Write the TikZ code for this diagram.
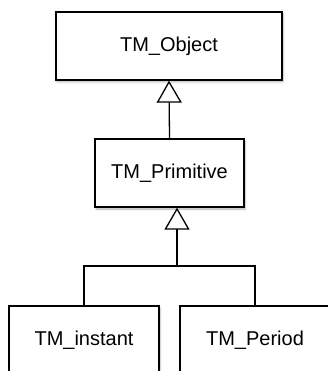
\documentclass[tikz,border=0pt]{standalone}
\usepackage{fontspec}
\setmainfont{Liberation Sans}
\usetikzlibrary{arrows.meta,shadows.blur}
\begin{document}
\begin{tikzpicture}[x=1pt,y=-1pt,
  cls/.style={draw=black, line width=1.3pt, fill=white, minimum height=68pt, inner sep=0pt,
    font=\fontsize{20}{24}\selectfont, blur shadow={shadow xshift=1pt, shadow yshift=-2pt, shadow blur steps=5, shadow opacity=30}},
  gen/.style={line width=1.3pt, -{Triangle[open, length=22pt, width=25pt, line width=1.3pt]}},
  ln/.style={line width=1.3pt}]
\useasboundingbox (0,0) rectangle (327,371);
\node[cls, minimum width=226pt] (obj) at (169,46) {TM\_Object};
\node[cls, minimum width=149pt] (prim) at (169.5,173) {TM\_Primitive};
\node[cls, minimum width=150pt] (inst) at (84,340) {TM\_instant};
\node[cls, minimum width=150pt] (per) at (255,340) {TM\_Period};
\coordinate (j) at (177,266);
\draw[gen] (prim.north) -- (obj.south);
\draw[gen] (j) -- (prim.south -| j);
\draw[ln] (inst.north) |- (j) -| (per.north);
\end{tikzpicture}
\end{document}
